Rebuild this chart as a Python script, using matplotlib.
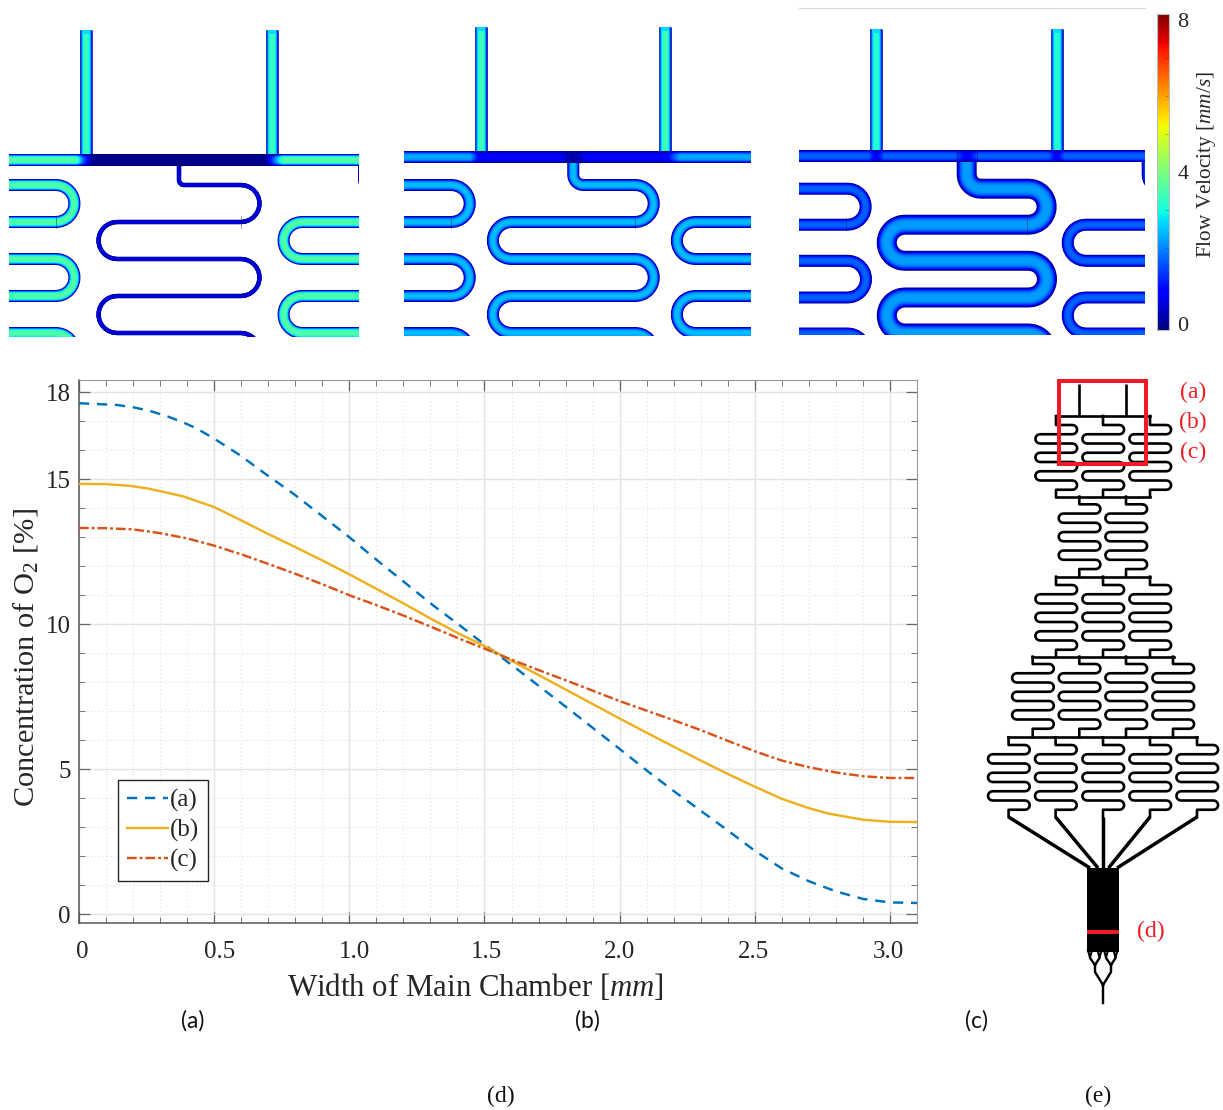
import numpy as np
import matplotlib
matplotlib.use('Agg')
import matplotlib.pyplot as plt
from matplotlib.patches import Rectangle
from matplotlib.transforms import ScaledTranslation

plt.rcParams['font.family'] = ['Liberation Serif', 'DejaVu Serif']
plt.rcParams['mathtext.fontset'] = 'custom'
plt.rcParams['mathtext.rm'] = 'Liberation Serif'
plt.rcParams['mathtext.it'] = 'Liberation Serif:italic'

W, H = 1223, 1110

# O2 profile across the main chamber
width_a = [0, 0.14, 0.2, 0.26, 0.32, 0.38, 0.435, 0.5, 0.595, 0.69, 0.79, 0.89, 1.0, 1.11, 1.21, 1.31, 1.41, 1.5,
           1.6, 1.7, 1.8, 1.9, 2.0, 2.1, 2.2, 2.3, 2.4, 2.5, 2.6, 2.7, 2.8, 2.9, 3.0, 3.1]
conc_a = [17.62, 17.56, 17.48, 17.36, 17.19, 16.98, 16.75, 16.4, 15.83, 15.18, 14.52, 13.8, 13.0, 12.15, 11.4, 10.65,
          9.95, 9.3, 8.6, 7.88, 7.16, 6.43, 5.7, 4.96, 4.25, 3.57, 2.89, 2.19, 1.58, 1.14, 0.79, 0.53, 0.41, 0.39]
width_b = [0, 0.1, 0.19, 0.26, 0.385, 0.5, 0.6, 0.7, 0.8, 0.9, 1.0, 1.1, 1.2, 1.3, 1.4, 1.5, 1.6, 1.7, 1.8, 1.9,
           2.0, 2.1, 2.2, 2.3, 2.4, 2.5, 2.6, 2.7, 2.774, 2.9, 3.0, 3.1]
conc_b = [14.84, 14.83, 14.77, 14.67, 14.41, 14.04, 13.58, 13.11, 12.66, 12.2, 11.72, 11.22, 10.72, 10.2, 9.7, 9.25,
          8.74, 8.25, 7.75, 7.25, 6.75, 6.26, 5.78, 5.3, 4.84, 4.4, 3.98, 3.66, 3.47, 3.26, 3.19, 3.18]
width_c = [0, 0.1, 0.2, 0.3, 0.4, 0.5, 0.6, 0.7, 0.8, 0.9, 1.0, 1.1, 1.2, 1.3, 1.4, 1.5, 1.6, 1.7, 1.8, 1.9,
           2.0, 2.1, 2.2, 2.3, 2.4, 2.5, 2.6, 2.7, 2.8, 2.9, 3.0, 3.1]
conc_c = [13.32, 13.31, 13.27, 13.14, 12.96, 12.71, 12.41, 12.08, 11.74, 11.38, 11.0, 10.66, 10.3, 9.92, 9.53, 9.16,
          8.78, 8.42, 8.07, 7.71, 7.35, 7.02, 6.69, 6.35, 5.98, 5.62, 5.3, 5.07, 4.89, 4.76, 4.7, 4.7]
series_labels = ['(a)', '(b)', '(c)']
x_ticks = [0, 0.5, 1.0, 1.5, 2.0, 2.5, 3.0]
x_tick_labels = ['0', '0.5', '1.0', '1.5', '2.0', '2.5', '3.0']
x_label_shift = [3, 5, 5, 2, 0, -1, -2]
y_ticks = [0, 5, 10, 15, 18]

# flow panels: left, right, bottom
panel_a_box = [9, 359, 337]
panel_b_box = [404, 751, 336]
panel_c_box = [799, 1145, 335]
inlet_tops = [30, 27, 29]
inlet_x = [[86, 271.7], [481.3, 665.3], [875.7, 1056.7]]
main_y = [160, 157, 156.5]
main_x_stops = [[9, 76, 84, 92, 266, 273, 283, 359],
                [404, 470, 478, 488, 560, 573, 586, 660, 668, 680, 751],
                [799, 868, 876, 884, 955, 967, 979, 1049, 1057, 1065, 1145]]
main_v_stops = [[.45, .45, .2, .015, .015, .2, .45, .45],
                [.29, .29, .12, .11, .11, .03, .11, .11, .12, .29, .29],
                [.22, .22, .1, .22, .22, .1, .22, .22, .1, .22, .22]]
outlet_x = [179, 573.3, 966.7]
outlet_gap = [185, 184, 181]
meander_levels = [[185, 222, 259, 296, 333, 370],
                  [185, 222, 259, 296, 333, 370],
                  [188.7, 224.7, 260.8, 297.5, 333.5, 370]]
meander_width = [4.5, 12, 20]
side_width = [12, 12, 12]
meander_v = [.085, .31, .28]
side_v = [.45, .31, .22]
inlet_v = [.42, .43, .4]
corner_r = [5, 10, 14]
seams = [[(55.7, 216, 228), (240.7, 216, 228), (176.5, 154, 166), (181.5, 154, 166)],
         [(450.7, 216, 228), (635, 216, 228), (567, 151, 163), (580, 151, 163)],
         [(845.7, 218, 230), (1026.7, 215, 234), (956.5, 151, 162), (977, 151, 162)]]

# whole device layout
bus_rows = [(416, 1056, 1150), (496.7, 1056, 1150), (576.7, 1056, 1150), (656.7, 1032.3, 1174), (737.3, 1008.3, 1197.3)]
stage_outlets = [[1056, 1103, 1150], [1079.3, 1126], [1056, 1103, 1150], [1032.7, 1079.3, 1126, 1173], [1008.6, 1055.6, 1103, 1150, 1197]]
stage_top = [425, 504.3, 585, 664, 745]
stage_bus = [416, 496.7, 576.7, 656.7, 737.3]
stage_exit = [496.7, 576.7, 656.7, 737.3, 817]
feed_end_x = [1090, 1098, 1103, 1108.5, 1117]

cbar_ticks = [0, 4, 8]


def px_axes(fig, x0, x1, y0, y1):
    ax = fig.add_axes([x0 / W, 1 - y1 / H, (x1 - x0) / W, (y1 - y0) / H])
    ax.set_xlim(x0, x1)
    ax.set_ylim(y1, y0)
    ax.axis('off')
    return ax


def serpentine(levels, x_l, x_r, n=14):
    # alternating U bends, first bend to the right
    xs, ys = [], []
    for i in range(len(levels) - 1):
        y0, y1 = levels[i], levels[i + 1]
        r = (y1 - y0) / 2
        a = np.linspace(-np.pi / 2, np.pi / 2, n)
        if i % 2 == 0:
            xs.extend(x_r + r * np.cos(a))
        else:
            xs.extend(x_l - r * np.cos(a))
        ys.extend((y0 + y1) / 2 + r * np.sin(a))
    return xs, ys


def channel(ax, xs, ys, width, vmax, zorder=2):
    # nested strokes give the velocity profile of the channel section
    for t in np.linspace(1, 0.08, 12):
        v = vmax * (1 - t ** 3.4)
        ax.plot(xs, ys, color=plt.cm.jet(v), lw=width * t * 0.72, solid_capstyle='butt',
                solid_joinstyle='round', zorder=zorder)


def outlet_path(x0, y_main, levels, x_l, x_r, r):
    a = np.linspace(np.pi, np.pi / 2, 8)
    xs = [x0] + list(x0 + r + r * np.cos(a))
    ys = [y_main] + list(levels[0] - r + r * np.sin(a))
    sx, sy = serpentine(levels, x_l, x_r)
    return xs + sx, ys + sy


def flow_panel(fig, box, i):
    x0, x1, y1 = box
    ax = px_axes(fig, x0, x1, 0, y1)
    ym = main_y[i]
    levels = meander_levels[i]
    mid = outlet_x[i]
    gap = outlet_gap[i]
    for ox, w, v in [(mid - gap, side_width[i], side_v[i]), (mid + gap, side_width[i], side_v[i]),
                     (mid, meander_width[i], meander_v[i])]:
        xs, ys = outlet_path(ox, ym, levels, ox - 62, ox + 62, corner_r[i])
        channel(ax, xs, ys, w, v)
    for ix in inlet_x[i]:
        channel(ax, [ix, ix], [inlet_tops[i], ym - 5], 12.5, inlet_v[i], zorder=3)
        ax.add_patch(Rectangle((ix - 4, inlet_tops[i]), 8, 3.5, color=plt.cm.jet(.34), lw=0, zorder=4))
    # main channel as a field along x and across the section
    grid_x = np.arange(x0, x1 + 1)
    vx = np.interp(grid_x, main_x_stops[i], main_v_stops[i])
    t = np.linspace(-1, 1, 25)
    field = np.outer(1 - np.abs(t) ** 3.4, vx)
    ax.imshow(field, cmap='jet', vmin=0, vmax=1, extent=[x0, x1, ym + 6, ym - 6], aspect='auto',
              interpolation='bilinear', zorder=5)
    for sx, sy0, sy1 in seams[i]:
        ax.plot([sx, sx], [sy0, sy1], color='#001040', lw=0.5, alpha=0.6, zorder=6)
    ax.set_xlim(x0, x1)
    ax.set_ylim(y1, 0)
    return ax


fig = plt.figure(figsize=(W / 100, H / 100), dpi=100, facecolor='white')

flow_panel(fig, panel_a_box, 0)
flow_panel(fig, panel_b_box, 1)
flow_panel(fig, panel_c_box, 2)

# colour bar
cax = fig.add_axes([1157 / W, 1 - 330 / H, 12 / W, 316 / H])
cax.imshow(np.linspace(0, 1, 256)[:, None], cmap='jet', origin='lower', extent=[0, 1, -0.16, 8.16], aspect='auto')
cax.set_xticks([])
cax.set_yticks(cbar_ticks)
cax.set_yticks(range(1, 8), minor=True)
cax.yaxis.tick_right()
cax.tick_params(axis='y', which='major', length=0, labelsize=16, pad=6, labelcolor='#262626')
cax.tick_params(axis='y', which='minor', direction='in', length=3, width=0.5, color='#00000055')
for s in cax.spines.values():
    s.set_color('#bbbbbb')
    s.set_linewidth(0.8)

# main plot
ax = fig.add_axes([79 / W, 1 - 923 / H, 838 / W, 543 / H])
ax.plot(width_a, conc_a, color='#0072BD', lw=1.75, ls=(0, (4.2, 3.2)), label=series_labels[0], zorder=3)
ax.plot(width_b, conc_b, color='#EDB120', lw=1.75, ls='-', label=series_labels[1], zorder=3)
ax.plot(width_c, conc_c, color='#D95319', lw=1.75, ls=(0, (4, 1.2, 1.2, 1.2)), label=series_labels[2], zorder=3)
ax.set_xlim(0, 3.1)
ax.set_ylim(-0.3, 18.42)
ax.set_xticks(x_ticks)
ax.set_xticklabels(x_tick_labels)
ax.set_yticks(y_ticks)
ax.set_xticks(np.arange(0, 3.11, 0.1), minor=True)
ax.set_yticks(np.arange(0, 19, 1), minor=True)
ax.grid(which='major', color='#e4e4e4', lw=1)
ax.grid(which='minor', color='#d8d8d8', lw=0.7, ls=(0, (1, 3)))
ax.set_axisbelow(True)
ax.tick_params(which='major', direction='in', length=8, width=0.9, color='#666666', top=True, right=True,
               labelsize=18, labelcolor='#262626')
ax.tick_params(which='minor', direction='in', length=4, width=0.7, color='#777777', top=True, right=True)
ax.tick_params(axis='x', which='major', pad=13)
ax.tick_params(axis='y', which='major', pad=6)
for label, dx in zip(ax.get_xticklabels(), x_label_shift):
    label.set_transform(label.get_transform() + ScaledTranslation(dx / 100, 0, fig.dpi_scale_trans))
for name, s in ax.spines.items():
    s.set_color('#555555' if name in ('left', 'bottom') else '#999999')
    s.set_linewidth(1.1 if name in ('left', 'bottom') else 0.8)
ax.set_xlabel('Width of Main Chamber [$mm$]', fontsize=22.2, color='#262626')
ax.set_ylabel('Concentration of O$_2$ [%]', fontsize=21.9, color='#262626')
ax.xaxis.set_label_coords(396 / 838, -49 / 543)
ax.yaxis.set_label_coords(-39 / 838, 265 / 543)
leg = ax.legend(loc='lower left', bbox_to_anchor=(39 / 838, 42 / 543), borderaxespad=0, fontsize=18,
                fancybox=False, framealpha=1, edgecolor='#262626', handlelength=1.62, handletextpad=0.1,
                labelspacing=0.28, borderpad=0.36, labelcolor='#262626')
leg.get_frame().set_linewidth(1.0)

# device overview drawn on a full figure overlay
over = px_axes(fig, 0, W, 0, H)
over.patch.set_alpha(0)
K = 'black'
LW = 1.9
for ix in [1079.3, 1126]:
    over.plot([ix, ix], [384, 416], color=K, lw=LW, solid_capstyle='butt')
for by, bx0, bx1 in bus_rows:
    over.plot([bx0, bx1], [by, by], color=K, lw=LW, solid_capstyle='projecting')
for s, outs in enumerate(stage_outlets):
    levels = stage_top[s] + np.arange(8) * 9.25
    for ox in outs:
        sx, sy = serpentine(list(levels), ox - 16, ox + 16.5, n=8)
        xs = [ox, ox] + [ox + 16.5] + sx + [ox, ox]
        ys = [stage_bus[s], levels[0], levels[0]] + sy + [levels[-1], stage_exit[s]]
        over.plot(xs, ys, color=K, lw=LW, solid_joinstyle='round')
for ox, ex in zip(stage_outlets[4], feed_end_x):
    over.plot([ox, ex], [817, 868], color=K, lw=2.5, solid_capstyle='butt')
over.add_patch(Rectangle((1087.3, 868), 31.7, 84, color=K, lw=0))
over.add_patch(Rectangle((1087.3, 930.3), 31.7, 4, color='#ED1C24', lw=0, zorder=4))
# split tree under the chamber
tree = [([1103, 1103], [1003.3, 985]), ([1103, 1095, 1095], [985, 972, 965]), ([1103, 1111, 1111], [985, 972, 965]),
        ([1095, 1090, 1090], [965, 958, 955]), ([1095, 1099.5, 1099.5], [965, 958, 955]),
        ([1111, 1106, 1106], [965, 958, 955]), ([1111, 1115.5, 1115.5], [965, 958, 955])]
for tx, ty in tree:
    over.plot(tx, ty, color=K, lw=1.75, solid_joinstyle='round')
for px in [1090, 1099.5, 1106, 1115.5]:
    over.plot([px - 2.2, px, px + 2.2], [950, 957, 950], color=K, lw=1.5)
over.add_patch(Rectangle((1059.3, 381), 86.5, 83, fill=False, edgecolor='#ED1C24', lw=2.9, zorder=5))
for label, x, y in [('(a)', 1193, 392), ('(b)', 1193, 422), ('(c)', 1193, 452), ('(d)', 1151, 931)]:
    over.text(x, y, label, color='#ED1C24', fontsize=17, ha='center', va='center')

over.text(1206, 165, 'Flow Velocity [$mm/s$]', rotation=90, fontsize=15.3, color='#262626', ha='center', va='center')

for label, x, y in [('(a)', 193, 1021), ('(b)', 587, 1021), ('(c)', 977, 1021)]:
    over.text(x, y, label, family='Lato', fontsize=16.5, color='#111111', ha='center', va='center')
for label, x, y in [('(d)', 501, 1096), ('(e)', 1098, 1096)]:
    over.text(x, y, label, fontsize=17, color='#111111', ha='center', va='center')

# thin rule over the third panel
over.plot([799, 1145], [8, 8], color='#d8d8d8', lw=0.8)

fig.savefig('out.png', dpi=100)
plt.close(fig)
